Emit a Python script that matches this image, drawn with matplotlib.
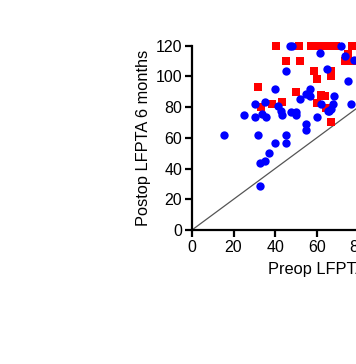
import matplotlib
matplotlib.use("Agg")
import matplotlib.pyplot as plt
import numpy as np

plt.rcParams['font.family'] = ['Liberation Sans', 'DejaVu Sans']

# blue circles (preop, postop)
blue_x = [15.3, 25.1, 30.2, 30.2, 31.8, 32.7, 32.7, 33.8, 35.0, 35.4, 35.0, 36.8,
          40.0, 40.0, 41.5, 42.7, 43.3, 45.0, 45.0, 45.0, 47.1, 48.2, 47.5, 50.0,
          50.0, 51.8, 55.0, 55.0, 55.0, 56.9, 56.9, 60.2, 61.6, 61.8, 64.8, 65.2,
          66.0, 66.8, 67.9, 68.4, 71.8, 73.6, 74.9, 76.5, 77.7]
blue_y = [61.7, 75.0, 81.7, 73.2, 61.5, 43.3, 28.6, 75.4, 83.2, 73.2, 44.8, 50.2,
          91.4, 56.7, 80.4, 77.3, 75.0, 103.3, 61.5, 56.7, 120.0, 120.0, 76.7, 76.7,
          75.0, 85.1, 68.7, 65.2, 88.4, 91.4, 87.3, 73.2, 114.8, 81.9, 104.8, 77.3,
          77.3, 78.8, 81.9, 86.9, 120.0, 113.3, 96.8, 81.9, 110.5]

# red squares
red_x = [40.3, 51.6, 57.0, 59.0, 61.0, 63.0, 65.0, 67.0, 69.0, 76.7,
         45.0, 51.8, 31.9, 33.3, 38.6, 43.4, 50.0, 58.5, 60.2, 60.2,
         61.8, 63.9, 66.9, 67.0, 67.0, 64.6, 75.2, 73.3, 77.1]
red_y = [120.0, 120.0, 120.0, 120.0, 120.0, 120.0, 120.0, 120.0, 120.0, 120.0,
         109.8, 109.8, 93.1, 79.8, 81.9, 83.4, 89.9, 103.1, 98.2, 82.8,
         87.8, 86.9, 100.0, 103.1, 70.4, 79.2, 114.6, 109.8, 109.8]

fig = plt.figure(figsize=(3.56, 3.64), dpi=100)
ax = fig.add_axes([0.539, 0.368, 0.702, 0.507])

ax.plot([0, 120], [0, 120], color='#555555', linewidth=0.9, zorder=1)
ax.scatter(red_x, red_y, marker='s', s=30, color='#ff0000', linewidths=0,
           zorder=2, clip_on=False)
ax.scatter(blue_x, blue_y, marker='o', s=36, color='#0000ff', linewidths=0,
           zorder=3, clip_on=False)

ax.set_xlim(0, 120)
ax.set_ylim(0, 120)
ax.set_xticks(np.arange(0, 121, 20))
ax.set_yticks(np.arange(0, 121, 20))
for s in ['top', 'right']:
    ax.spines[s].set_visible(False)
for s in ['left', 'bottom']:
    ax.spines[s].set_linewidth(1.6)
ax.tick_params(width=1.6, length=5, labelsize=11.5, pad=2)
ax.set_xlabel("Preop LFPTA", fontsize=11.8, labelpad=5)
ax.set_ylabel("Postop LFPTA 6 months", fontsize=11.8, labelpad=3)

fig.savefig("out.png", dpi=100)
